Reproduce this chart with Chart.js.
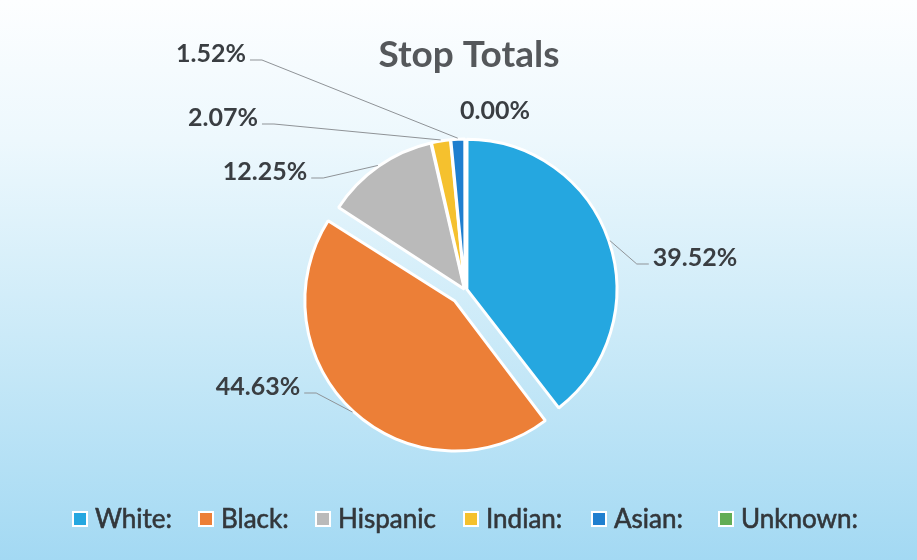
<!DOCTYPE html>
<html>
<head>
<meta charset="utf-8">
<script src="https://cdn.jsdelivr.net/npm/chart.js@4.4.1/dist/chart.umd.min.js"></script>
<style>
  html, body { margin: 0; padding: 0; background: #ffffff; }
  #wrap { width: 917px; height: 560px; position: relative; overflow: hidden; }
  canvas { display: block; }
</style>
</head>
<body>
<div id="wrap"><canvas id="c" width="917" height="560"></canvas></div>
<script>
// ---- data ----
const chartTitle = 'Stop Totals';
const categories = ['White:', 'Black:', 'Hispanic', 'Indian:', 'Asian:', 'Unknown:'];
const shares = [39.52, 44.63, 12.25, 2.07, 1.52, 0.00];

// ---- styles / layout ----
const sliceColors = ['#25a7e0', '#ec7f37', '#bababa', '#f5c12e', '#1f7fcf', '#62ad55'];
const explodePx = [2, 15, 1, 1, 1, 0];
const labelCenters = [[695, 258], [258, 387], [265, 172], [223, 118], [211, 54], [495, 111]];
const hasLeader = [true, true, true, true, true, false];
const legendBoxX = [74, 200, 317, 465, 593, 720];
const FONT = 'Lato, "Open Sans", sans-serif';

const bgPlugin = {
  id: 'bg',
  beforeDraw(chart) {
    const { ctx, width, height } = chart;
    const g = ctx.createLinearGradient(0, 0, 0, height);
    g.addColorStop(0, '#fdfeff');
    g.addColorStop(0.25, '#edf8fd');
    g.addColorStop(0.6, '#cbeaf8');
    g.addColorStop(1, '#a3d9f3');
    ctx.save();
    ctx.fillStyle = g;
    ctx.fillRect(0, 0, width, height);
    ctx.restore();
  }
};

// keep exploded slices at the same radius (Chart.js enlarges them slightly)
const radiusFix = {
  id: 'radiusFix',
  afterDatasetsUpdate(chart) {
    chart.getDatasetMeta(0).data.forEach(arc => {
      const off = (arc.options.offset || 0) / 4;
      const fix = 1 - Math.sin(Math.min(Math.PI, arc.circumference || 0));
      arc.outerRadius = arc.outerRadius - off * fix;
    });
  }
};

const labelPlugin = {
  id: 'pctLabels',
  afterDatasetsDraw(chart) {
    const ctx = chart.ctx;
    const meta = chart.getDatasetMeta(0);
    ctx.save();
    meta.data.forEach((arc, i) => {
      const p = arc.getProps(['x', 'y', 'startAngle', 'endAngle', 'outerRadius', 'circumference'], true);
      const mid = (p.startAngle + p.endAngle) / 2;
      const off = (arc.options.offset || 0) / 4;
      const fix = 1 - Math.sin(Math.min(Math.PI, p.circumference || 0));
      const r = p.outerRadius + off * fix + 1;
      const cx = p.x + Math.cos(mid) * off, cy = p.y + Math.sin(mid) * off;
      const ax = cx + Math.cos(mid) * r, ay = cy + Math.sin(mid) * r;
      const text = shares[i].toFixed(2) + '%';
      const [lx, ly] = labelCenters[i];
      ctx.font = 'bold 25px ' + FONT;
      const w = ctx.measureText(text).width;
      if (hasLeader[i]) {
        const left = ax < lx;
        const sx = left ? lx - w / 2 - 4 : lx + w / 2 + 4;
        const sy = ly + 6;
        const ex = left ? sx - 12 : sx + 12;
        ctx.strokeStyle = '#8f9397';
        ctx.lineWidth = 1;
        ctx.beginPath();
        ctx.moveTo(sx, sy);
        ctx.lineTo(ex, sy);
        ctx.lineTo(ax, ay);
        ctx.stroke();
      }
      ctx.fillStyle = '#3a3e42';
      ctx.textAlign = 'center';
      ctx.textBaseline = 'middle';
      ctx.fillText(text, lx, ly);
    });
    ctx.restore();
  }
};

const titleLegendPlugin = {
  id: 'titleLegend',
  afterDraw(chart) {
    const ctx = chart.ctx;
    ctx.save();
    ctx.fillStyle = '#55585b';
    ctx.font = 'bold 37px ' + FONT;
    ctx.textAlign = 'center';
    ctx.textBaseline = 'middle';
    ctx.fillText(chartTitle, 469, 55);

    const ly = 519;
    ctx.font = '26px ' + FONT;
    ctx.textAlign = 'left';
    ctx.lineWidth = 0.6;
    categories.forEach((name, i) => {
      const bx = legendBoxX[i];
      ctx.fillStyle = '#ffffff';
      ctx.fillRect(bx - 2, ly - 8, 16, 16);
      ctx.fillStyle = sliceColors[i];
      ctx.fillRect(bx, ly - 6, 12, 12);
      ctx.fillStyle = '#33373b';
      ctx.strokeStyle = '#33373b';
      ctx.fillText(name, bx + 21, ly + 1);
      ctx.strokeText(name, bx + 21, ly + 1);
    });
    ctx.restore();
  }
};

new Chart(document.getElementById('c'), {
  type: 'pie',
  data: {
    labels: categories,
    datasets: [{
      data: shares,
      backgroundColor: sliceColors,
      borderColor: '#ffffff',
      borderWidth: 3,
      offset: explodePx.map(v => v * 4),
      hoverOffset: 0
    }]
  },
  options: {
    responsive: false,
    animation: false,
    radius: 150,
    layout: { padding: { left: 13, right: 0, top: 20, bottom: 0 } },
    plugins: {
      legend: { display: false },
      title: { display: false },
      tooltip: { enabled: false }
    },
    events: []
  },
  plugins: [bgPlugin, radiusFix, labelPlugin, titleLegendPlugin]
});
</script>
</body>
</html>
